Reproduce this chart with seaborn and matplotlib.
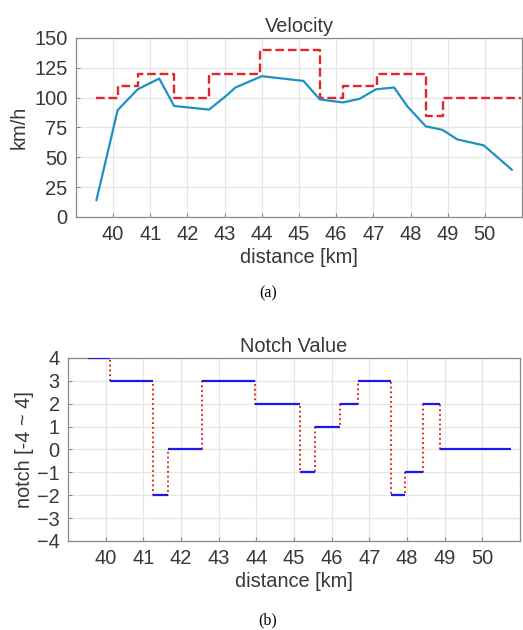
import matplotlib
matplotlib.use("Agg")
import matplotlib.pyplot as plt
import seaborn as sns

# =====================================
# DATA
# =====================================

# measured speed along the route
speed_km = [39.55, 40.12, 40.66, 41.24, 41.64, 42.58, 43.02, 43.29, 44.0,
            45.12, 45.56, 46.18, 46.63, 47.07, 47.56, 47.92, 48.41, 48.86,
            49.26, 49.97, 50.73]
speed_kmh = [14, 89.5, 107, 116, 93, 90, 101, 108.5, 118,
             114, 98.5, 96, 99, 107, 108.5, 92.5, 76, 73,
             65, 60, 39.5]

# speed limit (step changes)
limit_km = [39.55, 40.12, 40.66, 41.64, 42.58, 43.96, 45.56, 46.18,
            47.09, 48.43, 48.88, 50.98]
limit_kmh = [100, 110, 120, 100, 120, 140, 100, 110, 120, 85, 100, 100]

# notch value (step changes)
notch_km = [39.53, 40.12, 41.27, 41.65, 42.56, 43.97, 45.17, 45.57,
            46.23, 46.69, 47.57, 47.94, 48.43, 48.88, 50.75]
notch = [4, 3, -2, 0, 3, 2, -1, 1, 2, 3, -2, -1, 2, 0, 0]

x_ticks = [40, 41, 42, 43, 44, 45, 46, 47, 48, 49, 50]
speed_ticks = [0, 25, 50, 75, 100, 125, 150]
notch_ticks = [-4, -3, -2, -1, 0, 1, 2, 3, 4]

# =====================================
# STYLE
# =====================================

sns.set_style("ticks")
plt.rcParams['font.family'] = ['Liberation Sans', 'DejaVu Sans']
plt.rcParams['text.color'] = '#383838'
plt.rcParams['axes.labelcolor'] = '#383838'
plt.rcParams['xtick.color'] = '#383838'
plt.rcParams['ytick.color'] = '#383838'

fig = plt.figure(figsize=(5.23, 6.30), dpi=100)

ax1 = fig.add_axes([0.1453, 0.6556, 0.8528, 0.2841])
ax2 = fig.add_axes([0.130, 0.1413, 0.8642, 0.2905])


def style_axes(ax):
    ax.grid(True, color='#e6e6e6', linewidth=0.9)
    ax.set_axisbelow(True)
    for s in ax.spines.values():
        s.set_color('#8a8a8a')
        s.set_linewidth(0.9)
    ax.tick_params(direction='in', length=3, labelsize=14.4,
                   color='#8a8a8a', pad=6)
    ax.set_xticks(x_ticks)
    ax.set_xlim(39.0, 51.0)


# =====================================
# GRAPH (a) VELOCITY
# =====================================

sns.lineplot(x=limit_km, y=limit_kmh, ax=ax1, color='#e3262c',
             linestyle='--', linewidth=1.7, drawstyle='steps-post',
             sort=False)
sns.lineplot(x=speed_km, y=speed_kmh, ax=ax1, color='#1f90c4',
             linewidth=1.6, sort=False)

style_axes(ax1)
ax1.set_ylim(0, 150)
ax1.set_yticks(speed_ticks)
ax1.set_title("Velocity", fontsize=14.4, pad=4)
ax1.set_xlabel("distance [km]", fontsize=14.4, labelpad=3)
ax1.set_ylabel("km/h", fontsize=14.4, labelpad=4)
fig.text(0.512, 0.535, "(a)", ha='center', va='center', fontsize=11.5,
         family=['Liberation Serif'], color='black')

# =====================================
# GRAPH (b) NOTCH VALUE
# =====================================

sns.lineplot(x=notch_km, y=notch, ax=ax2, color='#e01010',
             linestyle=':', linewidth=1.3, drawstyle='steps-post',
             sort=False)
ax2.hlines(notch[:-1], notch_km[:-1], notch_km[1:], color='#1a1aee',
           linewidth=1.6, zorder=3)

style_axes(ax2)
ax2.set_ylim(-4, 4)
ax2.set_yticks(notch_ticks)
ax2.set_title("Notch Value", fontsize=14.4, pad=4)
ax2.set_xlabel("distance [km]", fontsize=14.4, labelpad=3)
ax2.set_ylabel("notch [-4 ~ 4]", fontsize=14.4, labelpad=2)
fig.text(0.512, 0.016, "(b)", ha='center', va='center', fontsize=11.5,
         family=['Liberation Serif'], color='black')

fig.savefig("out.png", dpi=100)
plt.close(fig)
